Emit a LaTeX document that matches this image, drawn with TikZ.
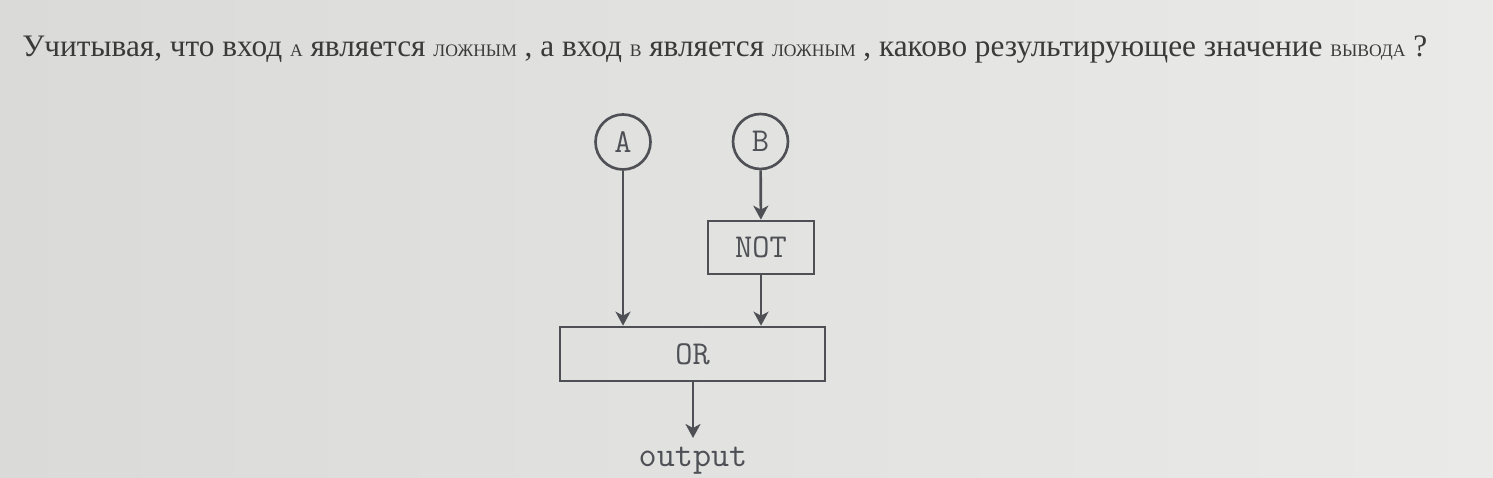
\documentclass[tikz,border=0pt]{standalone}
\usepackage{fontspec}
\setmainfont{Liberation Serif}
\usetikzlibrary{arrows.meta}

\definecolor{ink}{RGB}{78,80,86}
\definecolor{txt}{RGB}{58,58,58}
\definecolor{bgl}{RGB}{218,219,216}
\definecolor{bgr}{RGB}{234,234,232}

\newcommand\smallcapsword[1]{{\fontsize{10pt}{12pt}\selectfont\MakeUppercase{#1}}}

\tikzset{
  input/.style={draw=ink, line width=1.5pt, circle, minimum size=1.1cm, inner sep=0pt,
    text=ink, font=\ttfamily\fontsize{19pt}{21pt}\selectfont},
  gate/.style={draw=ink, line width=1.5pt, rectangle, inner sep=0pt,
    text=ink, font=\ttfamily\fontsize{19pt}{21pt}\selectfont},
  wire/.style={draw=ink, line width=1.5pt, -{Stealth[length=0.28cm, width=0.3cm, inset=0.08cm]}}
}

\begin{document}
\begin{tikzpicture}
\shade[left color=bgl, right color=bgr] (0,0) rectangle (29.86,9.56);
\useasboundingbox (0,0) rectangle (29.86,9.56);

% question
\node[anchor=base west, inner sep=0pt, text=txt, font=\fontsize{17.8pt}{21pt}\selectfont] (question) at (0.44,8.42)
  {Учитывая, что вход \smallcapsword{а} является \smallcapsword{ложным} , а вход \smallcapsword{в} является \smallcapsword{ложным} , каково результирующее значение \smallcapsword{вывода} ?};

% inputs and gates
\node[input] (A) at (12.46,6.72) {A};
\node[input] (B) at (15.21,6.73) {B};
\node[gate, minimum width=2.12cm, minimum height=1.06cm] (not) at (15.22,4.61) {NOT};
\node[gate, minimum width=5.3cm, minimum height=1.08cm] (or) at (13.85,2.48) {OR};
\coordinate (out) at (13.86,0.8);
\node[anchor=base, inner sep=0pt, text=ink, font=\ttfamily\fontsize{20pt}{22pt}\selectfont] (output) at (13.86,0.22) {output};

% wires
\draw[wire] (A) -- (A |- or.north);
\draw[wire] (B) -- (not);
\draw[wire] (not) -- (not |- or.north);
\draw[wire] (or.south -| out) -- (out);
\end{tikzpicture}
\end{document}
